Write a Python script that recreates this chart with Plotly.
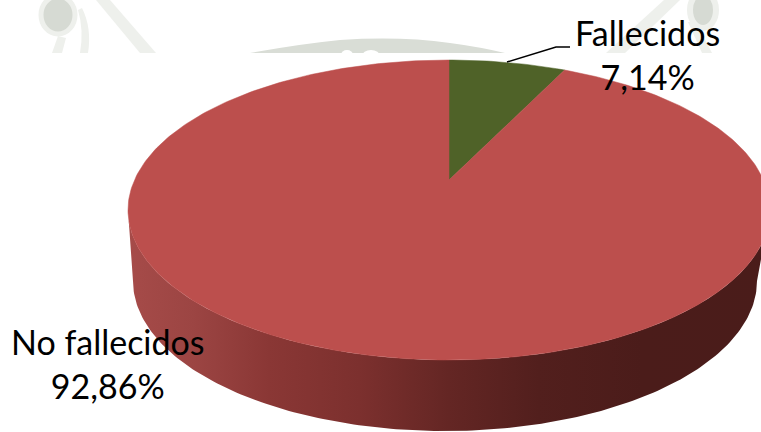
import math
import plotly.graph_objects as go

# --- data ---
categories = ["Fallecidos", "No fallecidos"]
shares = [7.14, 92.86]
slice_colors = ["#4F6228", "#BC4F4D"]

# --- geometry of the drawing, in page pixels ---
CX, CY, RX, RY = 449, 210, 321, 150
PERSP = 0.2            # apex sits above the ellipse centre
BCX, BCY, BRX, BRY = 445, 281, 312, 150


def project(angle):
    """Clockwise-from-top pie angle -> point of the tilted top face."""
    return project_r(angle, 1.0)


def project_r(angle, r):
    u, v = r * math.sin(angle), r * math.cos(angle)
    d = 1 + PERSP * v
    xn = u * math.sqrt(1 - PERSP ** 2) / d
    yn = (v + PERSP) / d
    return CX + RX * xn, CY - RY * yn


def slice_path(start_share, share):
    a0 = start_share / 100 * 2 * math.pi
    a1 = (start_share + share) / 100 * 2 * math.pi
    n = max(8, int(share * 4))
    xs, ys = [project_r(0, 0)[0]], [project_r(0, 0)[1]]
    for i in range(n + 1):
        x, y = project(a0 + (a1 - a0) * i / n)
        xs.append(x)
        ys.append(y)
    xs.append(xs[0])
    ys.append(ys[0])
    return xs, ys


fig = go.Figure()

# side wall
wx, wy = [], []
for i in range(181):
    t = math.pi * i / 180
    wx.append(CX - RX * math.cos(t))
    wy.append(CY + RY * math.sin(t))
for i in range(180, -1, -1):
    t = math.pi * i / 180
    wx.append(BCX - BRX * math.cos(t))
    wy.append(BCY + BRY * math.sin(t))
fig.add_trace(go.Scatter(
    x=wx, y=wy, mode="lines", fill="toself", line=dict(width=0, color="rgba(0,0,0,0)"),
    fillgradient=dict(
        type="horizontal",
        colorscale=[
            [0.0, "#A64B49"], [0.10, "#9C4543"], [0.22, "#8A3735"],
            [0.36, "#7C302E"], [0.50, "#642624"], [0.64, "#521F1D"],
            [0.80, "#4B1C1A"], [1.0, "#4A1C1A"],
        ],
    ),
    hoverinfo="skip", showlegend=False,
))

# top face, one polygon per category
start = 0.0
for name, share, color in zip(categories, shares, slice_colors):
    xs, ys = slice_path(start, share)
    fig.add_trace(go.Scatter(
        x=xs, y=ys, mode="lines", fill="toself", fillcolor=color,
        line=dict(width=0.5, color=color), name=name,
        hoverinfo="name", showlegend=False,
    ))
    start += share

# leader line
fig.add_trace(go.Scatter(
    x=[507, 556, 570], y=[62, 47, 47], mode="lines",
    line=dict(color="#000000", width=1.5), hoverinfo="skip", showlegend=False,
))

# faded watermark, visible only above the white plot box
WM2 = "#EEF0EC"
shapes = [
    dict(type="circle", x0=41, x1=75, y0=-4, y1=34, line=dict(color=WM2, width=5), fillcolor="#D6DAD3"),
    dict(type="path", path="M 96 0 L 110 0 L 156 53 L 140 53 Z", fillcolor=WM2, line=dict(width=0)),
    dict(type="path", path="M 82 8 Q 92 28 88 53 L 80 53 Q 84 30 78 10 Z", fillcolor=WM2, line=dict(width=0)),
    dict(type="path", path="M 52 53 L 58 36 L 66 38 L 62 53 Z", fillcolor=WM2, line=dict(width=0)),
    dict(type="path", path="M 250 53 Q 300 44 340 40 Q 400 36 450 43 Q 480 47 505 53 Z", fillcolor="#D9DDD6", line=dict(width=0)),
    dict(type="circle", x0=341, x1=353, y0=50, y1=60, fillcolor="#FFFFFF", line=dict(width=0)),
    dict(type="circle", x0=362, x1=380, y0=50, y1=62, fillcolor="#FFFFFF", line=dict(width=0)),
    dict(type="circle", x0=690, x1=716, y0=-8, y1=28, line=dict(color=WM2, width=6), fillcolor="#D6DAD3"),
    dict(type="path", path="M 664 0 L 680 0 L 625 53 L 606 53 Z", fillcolor=WM2, line=dict(width=0)),
    dict(type="path", path="M 688 22 L 696 22 L 712 53 L 702 53 Z", fillcolor=WM2, line=dict(width=0)),
]
fig.update_layout(shapes=[dict(s, xref="x", yref="y", layer="below") for s in shapes])

# labels
def label(name, share, x, y):
    fig.add_annotation(
        x=x, y=y, xref="x", yref="y", showarrow=False, align="center",
        text=f"{name}<br>{share:.2f}%".replace(".", ","),
        font=dict(family="Lato, Carlito, sans-serif", size=34, color="#000000"),
    )

label(categories[0], shares[0], 647, 54)
label(categories[1], shares[1], 108, 363)

fig.update_layout(
    width=761, height=432, margin=dict(l=0, r=0, t=0, b=0),
    paper_bgcolor="#FFFFFF", plot_bgcolor="#FFFFFF",
    xaxis=dict(range=[0, 761], visible=False, fixedrange=True),
    yaxis=dict(range=[432, 0], visible=False, fixedrange=True),
)
fig.write_html(
    "out.html",
    config={"displayModeBar": False},
    post_script="document.body.style.margin='0';document.documentElement.style.overflow='hidden';",
)
